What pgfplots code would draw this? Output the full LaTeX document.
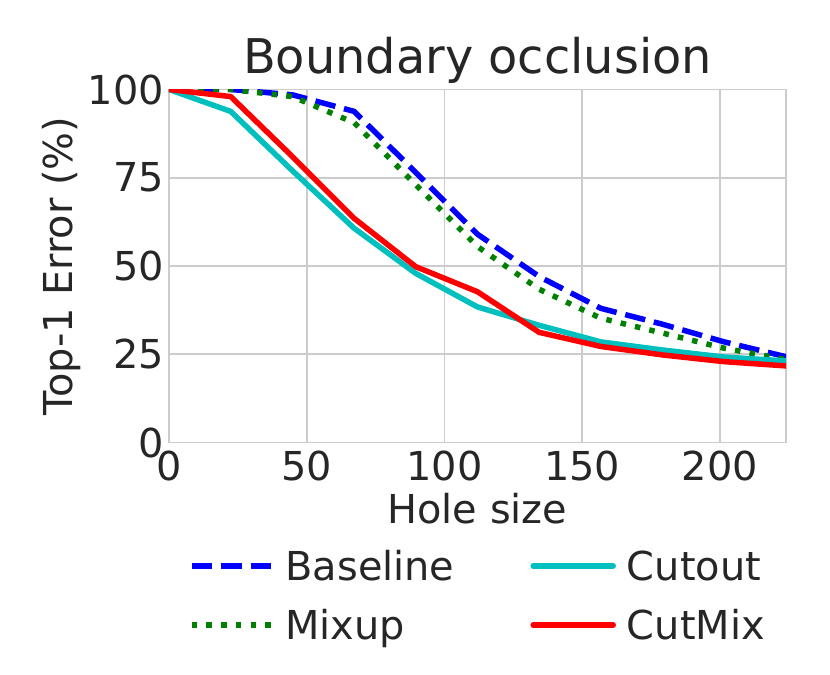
\documentclass[border=0pt]{standalone}
\usepackage{pgfplots}
\pgfplotsset{compat=1.18}
\usepackage{fontspec}
\setmainfont{DejaVu Sans}
\definecolor{textgray}{HTML}{262626}
\definecolor{gridgray}{HTML}{CCCCCC}
\definecolor{mgreen}{rgb}{0,0.5,0}
\definecolor{mcyan}{rgb}{0,0.75,0.75}
\pgfplotstableread{
x base mixup cutout cutmix
0 100 100 100 100
22.4 100 100 93.8 98
44.8 98.5 98 77 81
67.2 93.8 90.6 60.7 63.5
89.6 76.5 73 47.9 49.8
112 59 55.5 38.4 42.7
134.4 47 43.4 33.2 31.2
156.8 38 35.2 28.5 27.2
179.2 33.5 31 26.2 24.8
201.6 28.5 26.7 24.2 22.9
224 24.3 23.5 23.1 21.7
}\datatable
\begin{document}
\begin{tikzpicture}
\begin{axis}[
  name=ax,
  scale only axis,
  width=617bp, height=353bp,
  xmin=0, xmax=224, ymin=0, ymax=100,
  xtick={0,50,100,150,200},
  ytick={0,25,50,75,100},
  grid=major,
  major grid style={line width=1.8bp, draw=gridgray},
  axis line style={line width=1.8bp, draw=gridgray},
  major tick length=0pt,
  tick style={draw=none},
  /pgf/number format/assume math mode=true,
  tick label style={font=\fontsize{40}{48}\selectfont, text=textgray, inner sep=0pt},
  xticklabel style={anchor=north, yshift=-8bp},
  yticklabel style={anchor=east, xshift=-5bp},
  xlabel={Hole size},
  ylabel={Top-1 Error (\%)},
  title={Boundary occlusion},
  label style={font=\fontsize{40}{48}\selectfont, text=textgray, inner sep=0pt},
  xlabel style={at={(axis description cs:0.5,-0.2289)}, anchor=base},
  ylabel style={at={(axis description cs:-0.1556,0.5)}, anchor=base},
  title style={at={(axis description cs:0.5,1.0289)}, anchor=base, font=\fontsize{48}{58}\selectfont, text=textgray, inner sep=0pt},
  legend image code/.code={\draw[#1] (0bp,0bp) -- (80bp,0bp);},
  legend columns=2,
  transpose legend,
  legend cell align=left,
  legend style={
    at={(axis description cs:0.0324,-0.2802)}, anchor=north west,
    draw=none, fill=none, inner sep=0pt, outer sep=0pt,
    row sep=9.84bp,
    nodes={inner sep=0pt, outer sep=0pt, text height=39.16bp, text depth=10bp, font=\fontsize{40}{48}\selectfont, text=textgray},
    /tikz/column 1/.style={column sep=11bp},
    /tikz/column 2/.style={column sep=76bp},
    /tikz/column 3/.style={column sep=11bp},
  },
]
\addplot[blue, line width=5.5bp, dash pattern=on 20.6bp off 8.9bp, line cap=butt] table[x=x, y=base] {\datatable};
\addlegendentry{Baseline}
\addplot[mgreen, line width=5.5bp, dash pattern=on 5.5bp off 9.2bp, line cap=butt] table[x=x, y=mixup] {\datatable};
\addlegendentry{Mixup}
\addplot[mcyan, line width=5.5bp, line cap=round, line join=round] table[x=x, y=cutout] {\datatable};
\addlegendentry{Cutout}
\addplot[red, line width=5.5bp, line cap=round, line join=round] table[x=x, y=cutmix] {\datatable};
\addlegendentry{CutMix}
\end{axis}
\pgfresetboundingbox
\path ([shift={(-169bp,-232.5bp)}]ax.south west) rectangle ([shift={(44bp,89.5bp)}]ax.north east);
\end{tikzpicture}
\end{document}
